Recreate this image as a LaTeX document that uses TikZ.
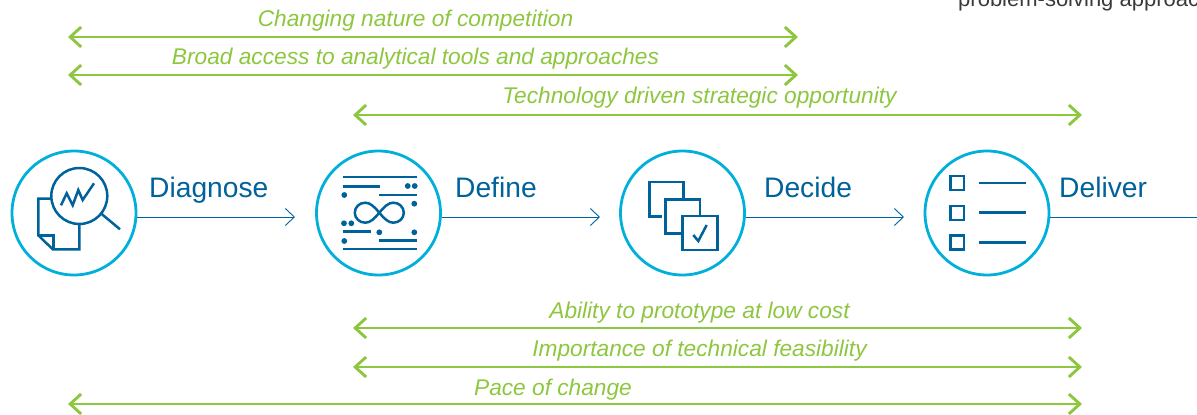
\documentclass[tikz,border=0pt]{standalone}
\usepackage{fontspec}
\setmainfont{Liberation Sans}
\usetikzlibrary{arrows.meta}
\definecolor{ringc}{HTML}{00B0DA}
\definecolor{bluec}{HTML}{00629B}
\definecolor{greenc}{HTML}{8DC63F}
\definecolor{greyc}{HTML}{3A3A3A}
\tikzset{
  ring/.style={circle,draw=ringc,line width=2.8pt,minimum size=124pt,inner sep=0pt},
  flow/.style={draw=bluec,line width=0.9pt,-{Straight Barb[length=9pt,width=17pt,line width=0.9pt]}},
  stage/.style={text=bluec,font=\fontsize{28.2}{30}\selectfont,anchor=base west,inner sep=0pt},
  span/.style={draw=greenc,line width=2.9pt,{Straight Barb[length=11pt,width=20pt,line width=2.9pt]}-{Straight Barb[length=11pt,width=20pt,line width=2.9pt]}},
  tag/.style={text=greenc,font=\fontsize{22.7}{26}\selectfont\itshape,anchor=base,inner sep=0pt},
  icon/.style={draw=bluec,line width=2.5pt,line join=miter,fill=none},
  dot/.style={fill=bluec,draw=none}
}
\begin{document}
\begin{tikzpicture}[x=1pt,y=-1pt]
\useasboundingbox (0,0) rectangle (1197,415);
\clip (0,0) rectangle (1197,415);
% clipped text top right
\node[anchor=base west,inner sep=0pt,text=greyc,font=\fontsize{22}{24}\selectfont] (cut) at (958,6) {problem-solving approach};
% green spans
\coordinate (s1a) at (68,37);  \coordinate (s1b) at (798,37);
\coordinate (s2a) at (68,75);  \coordinate (s2b) at (798,75);
\coordinate (s3a) at (353,115); \coordinate (s3b) at (1082,115);
\coordinate (s4a) at (353,328); \coordinate (s4b) at (1082,328);
\coordinate (s5a) at (353,367); \coordinate (s5b) at (1082,367);
\coordinate (s6a) at (68,404); \coordinate (s6b) at (1082,404);
\foreach \i in {1,...,6} \draw[span] (s\i a) -- (s\i b);
\node[tag] (t1) at (415.5,26) {Changing nature of competition};
\node[tag] (t2) at (415.5,64) {Broad access to analytical tools and approaches};
\node[tag] (t3) at (699.5,103) {Technology driven strategic opportunity};
\node[tag] (t4) at (699.5,318) {Ability to prototype at low cost};
\node[tag] (t5) at (699.5,356) {Importance of technical feasibility};
\node[tag] (t6) at (553,395) {Pace of change};
% circles
\node[ring] (c1) at (74,213) {};
\node[ring] (c2) at (378.5,213) {};
\node[ring] (c3) at (682.5,213) {};
\node[ring] (c4) at (987,213) {};
% labels
\node[stage] (l1) at (149,197) {Diagnose};
\node[stage] (l2) at (455,197) {Define};
\node[stage] (l3) at (764,197) {Decide};
\node[stage] (l4) at (1059,197) {Deliver};
% connectors
\coordinate (e1) at (295,217);
\coordinate (e2) at (600,217);
\coordinate (e3) at (904,217);
\coordinate (e4) at (1197,217);
\draw[flow] (c1.east |- e1) -- (e1);
\draw[flow] (c2.east |- e2) -- (e2);
\draw[flow] (c3.east |- e3) -- (e3);
\draw[draw=bluec,line width=0.9pt] (c4.east |- e4) -- (e4);
% Diagnose icon
\draw[icon] (79.3,196) circle[radius=28];
\draw[icon] (101.7,214) -- (120,229.3);
\draw[icon] (50.7,198.7) -- (38.3,198.7) -- (38.3,235.3) -- (52.7,249.3) -- (79.3,249.3) -- (79.3,224);
\draw[icon] (38.3,235.3) -- (53.3,235.3) -- (53.3,249.3);
\draw[icon] (61,205.3) -- (66.7,193.3) -- (72.7,205.3) -- (78.3,190) -- (82.7,200) -- (94,183.3);
% Define icon
\draw[icon] (342.7,177) -- (416.7,177);
\draw[icon] (342.7,186.7) -- (380,186.7);
\draw[icon] (378.7,195) -- (416.7,195);
\draw[icon] (342.7,231.7) -- (370.7,231.7);
\draw[icon] (378.7,240.3) -- (416.7,240.3);
\draw[icon] (342.7,249) -- (416.7,249);
\foreach \p in {(407.7,186),(414.7,186),(344.3,195),(414.3,203.7),(344,223.3),(351.3,223.3),(379.3,232.3),(414.3,232.3),(344.3,241)}
  \fill[dot] \p circle[radius=2.9];
\begin{scope}[shift={(379.3,212.7)}]
\draw[icon] (0,0) .. controls (5,-6) and (9,-10) .. (14,-10)
  .. controls (20,-10) and (24.5,-5.5) .. (24.5,0)
  .. controls (24.5,5.5) and (20,10) .. (14,10)
  .. controls (9,10) and (5,6) .. (0,0)
  .. controls (-5,-6) and (-9,-10) .. (-14,-10)
  .. controls (-20,-10) and (-24.5,-5.5) .. (-24.5,0)
  .. controls (-24.5,5.5) and (-20,10) .. (-14,10)
  .. controls (-9,10) and (-5,6) .. (0,0) -- cycle;
\end{scope}
% Decide icon
\draw[icon] (661.7,216.7) -- (649.3,216.7) -- (649.3,182) -- (683.3,182) -- (683.3,199);
\draw[icon] (682.7,233.3) -- (665.7,233.3) -- (665.7,199.3) -- (700,199.3) -- (700,216);
\draw[icon] (682.3,216) rectangle (717.3,250);
\draw[icon] (693.3,235) -- (698.3,241) -- (706.7,225);
% Deliver icon
\draw[icon] (950.7,176) rectangle (964,190);
\draw[icon] (950.7,206) rectangle (964,220);
\draw[icon] (950.7,235.5) rectangle (964,249.5);
\draw[icon] (979.3,183) -- (1025.7,183);
\draw[icon] (979.3,212.7) -- (1025.7,212.7);
\draw[icon] (979.3,242.3) -- (1025.7,242.3);
\end{tikzpicture}
\end{document}
